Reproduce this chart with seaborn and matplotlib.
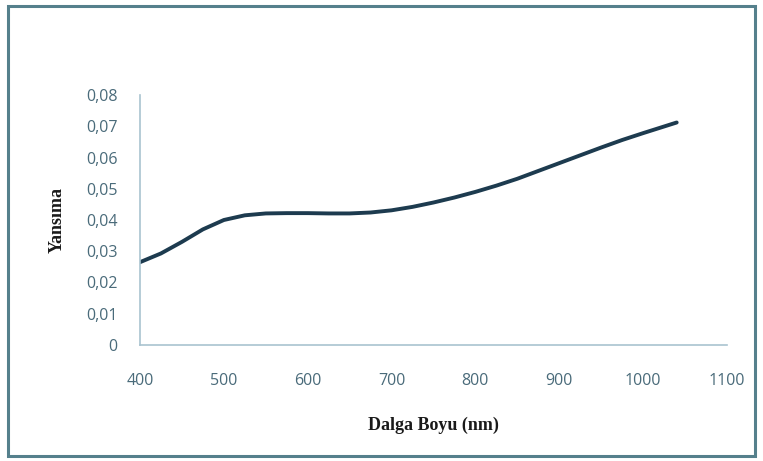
import matplotlib
matplotlib.use("Agg")
import matplotlib.pyplot as plt
from matplotlib.patches import Rectangle
from matplotlib.ticker import FuncFormatter
import seaborn as sns
import pandas as pd

# Reflectance spectrum
wavelength = [400, 425, 450, 475, 500, 525, 550, 575, 600, 625, 650, 675,
              700, 725, 750, 775, 800, 825, 850, 875, 900, 925, 950, 975,
              1000, 1020, 1040]
reflectance = [0.0265, 0.0293, 0.0330, 0.0370, 0.0400, 0.0415, 0.0421, 0.0422,
               0.0422, 0.0421, 0.0421, 0.0424, 0.0431, 0.0442, 0.0456, 0.0472,
               0.0490, 0.0510, 0.0532, 0.0557, 0.0582, 0.0607, 0.0632, 0.0656,
               0.0678, 0.0695, 0.0712]

x_ticks = [400, 500, 600, 700, 800, 900, 1000, 1100]
y_ticks = [0, 0.01, 0.02, 0.03, 0.04, 0.05, 0.06, 0.07, 0.08]

df = pd.DataFrame({"wavelength": wavelength, "reflectance": reflectance})

sns.set_theme(style="white")
plt.rcParams["font.family"] = ["DejaVu Sans"]

fig = plt.figure(figsize=(7.63, 4.61), dpi=100)
ax = fig.add_axes([140 / 763, 1 - 345 / 461, (727 - 140) / 763, (345 - 95) / 461])

sns.lineplot(data=df, x="wavelength", y="reflectance", ax=ax,
             color="#1d3b4f", linewidth=2.8,
             solid_joinstyle="round", solid_capstyle="round")

ax.set_xlim(400, 1100)
ax.set_ylim(0, 0.08)
ax.set_xticks(x_ticks)
ax.set_yticks(y_ticks)
ax.yaxis.set_major_formatter(
    FuncFormatter(lambda v, _: "0" if v == 0 else f"{v:.2f}".replace(".", ",")))

tick_color = "#4a6b7a"
ax.tick_params(axis="both", length=0, labelsize=11.5, colors=tick_color,
               labelfontfamily="Open Sans")
ax.tick_params(axis="x", pad=20)
ax.tick_params(axis="y", pad=16)

for side in ("top", "right"):
    ax.spines[side].set_visible(False)
for side in ("left", "bottom"):
    ax.spines[side].set_color("#a9c3d0")
    ax.spines[side].set_linewidth(1.2)

ax.set_xlabel("Dalga Boyu (nm)", family="Liberation Serif", fontweight="bold",
              fontsize=13, color="#1a1a1a", labelpad=20)
ax.set_ylabel("Yansıma", family="Liberation Serif", fontweight="bold",
              fontsize=13, color="#1a1a1a", labelpad=15)

# Outer frame around the chart
fig.patches.append(Rectangle((8 / 763, 5 / 461), 747 / 763, 450 / 461,
                             transform=fig.transFigure, fill=False,
                             edgecolor="#55808c", linewidth=2.2))

fig.savefig("out.png", dpi=100)
